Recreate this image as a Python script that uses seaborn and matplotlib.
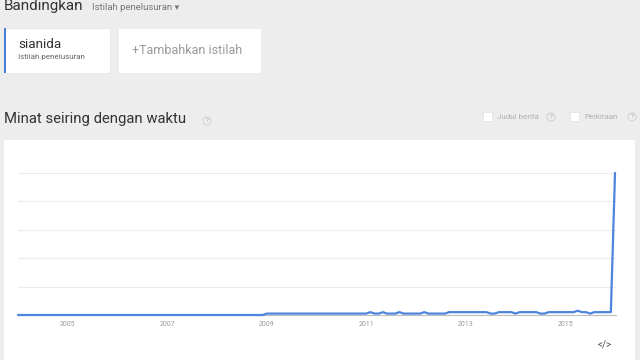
import matplotlib
matplotlib.use("Agg")
import matplotlib.pyplot as plt
from matplotlib.patches import Rectangle
import seaborn as sns
import pandas as pd

# ---- data (monthly search interest, Jan 2004 .. Jan 2016) ----
v2004 = [0, 0, 0, 0, 0, 0, 0, 0, 0, 0, 0, 0]
v2005 = [0, 0, 0, 0, 0, 0, 0, 0, 0, 0, 0, 0]
v2006 = [0, 0, 0, 0, 0, 0, 0, 0, 0, 0, 0, 0]
v2007 = [0, 0, 0, 0, 0, 0, 0, 0, 0, 0, 0, 0]
v2008 = [0, 0, 0, 0, 0, 0, 0, 0, 0, 0, 0, 0]
v2009 = [1, 1, 1, 1, 1, 1, 1, 1, 1, 1, 1, 1]
v2010 = [1, 1, 1, 1, 1, 1, 1, 1, 1, 1, 1, 1]
v2011 = [1, 2, 1, 1, 2, 1, 1, 1, 2, 1, 1, 1]
v2012 = [1, 1, 2, 1, 1, 1, 1, 1, 2, 2, 2, 2]
v2013 = [2, 2, 2, 2, 2, 2, 1, 1, 2, 2, 2, 2]
v2014 = [1, 2, 2, 2, 2, 2, 1, 1, 2, 2, 2, 2]
v2015 = [2, 2, 2, 3, 2, 2, 1, 2, 2, 2, 2, 2]
v2016 = [100]
series_values = v2004 + v2005 + v2006 + v2007 + v2008 + v2009 + v2010 + v2011 + v2012 + v2013 + v2014 + v2015 + v2016
months = pd.date_range("2004-01-01", periods=len(series_values), freq="MS")
year_ticks = [2005, 2007, 2009, 2011, 2013, 2015]
y_grid = [20, 40, 60, 80, 100]

df = pd.DataFrame({"t": months.year + (months.month - 1) / 12.0, "v": series_values})

W, H = 640, 360
sns.set_theme(style="white")
plt.rcParams["font.family"] = ["Roboto", "DejaVu Sans"]

bg = "#ededed"
fig = plt.figure(figsize=(W / 100, H / 100), dpi=100, facecolor=bg)

def fx(x):
    return x / W

def fy(y):
    return 1 - y / H

# white chart panel
fig.add_artist(Rectangle((fx(4), 0), fx(635) - fx(4), 1 - (140 / H), transform=fig.transFigure,
                         facecolor="white", edgecolor="none", zorder=0))

# cards
fig.add_artist(Rectangle((fx(4), fy(73)), fx(110) - fx(4), (73 - 28) / H, transform=fig.transFigure,
                         facecolor="white", edgecolor="#e2e2e2", lw=0.5, zorder=0))
fig.add_artist(Rectangle((fx(4), fy(73)), fx(6) - fx(4), (73 - 28) / H, transform=fig.transFigure,
                         facecolor="#4a7fd8", edgecolor="none", zorder=1))
fig.add_artist(Rectangle((fx(118), fy(73)), fx(261) - fx(118), (73 - 28) / H, transform=fig.transFigure,
                         facecolor="white", edgecolor="#e8e8e8", lw=0.5, zorder=0))

# texts at top
fig.text(fx(4), fy(6), "Bandingkan", fontsize=11, color="#333333", va="center", ha="left")
fig.text(fx(92), fy(7), "Istilah penelusuran \u25be", fontsize=6.8, color="#777777", va="center", ha="left",
         family=["Roboto", "DejaVu Sans"])
fig.text(fx(18), fy(44), "sianida", fontsize=9.7, color="#333333", va="center", ha="left")
fig.text(fx(18), fy(57), "Istilah penelusuran", fontsize=5.8, color="#666666", va="center", ha="left")
fig.text(fx(187), fy(51), "+Tambahkan istilah", fontsize=9, color="#999999", va="center", ha="center")

fig.text(fx(4), fy(119), "Minat seiring dengan waktu", fontsize=10.7, color="#333333", va="center", ha="left")

def qmark(x, y):
    fig.text(fx(x), fy(y), "?", fontsize=4.5, color="#aaaaaa", va="center", ha="center",
             bbox=dict(boxstyle="circle,pad=0.25", fc="none", ec="#cccccc", lw=0.6))

qmark(207, 121)

def checkbox(x, y):
    fig.add_artist(Rectangle((fx(x), fy(y + 9)), 9 / W, 9 / H, transform=fig.transFigure,
                             facecolor="white", edgecolor="#e0e0e0", lw=0.5, zorder=1))

checkbox(483, 112)
fig.text(fx(497), fy(117), "Judul berita", fontsize=5.8, color="#b0b0b0", va="center", ha="left")
qmark(551, 117)
checkbox(570, 112)
fig.text(fx(584), fy(117), "Perkiraan", fontsize=5.8, color="#b0b0b0", va="center", ha="left")
qmark(632, 117)

fig.text(fx(605), fy(344), "</>", fontsize=7, color="#555555", va="center", ha="center")

# chart axes
ax = fig.add_axes([fx(18), fy(315), fx(616) - fx(18), (315 - 173) / H])
ax.set_facecolor("none")
ax.set_zorder(2)
for y in y_grid:
    ax.axhline(y, color="#ececec", lw=0.8, zorder=0)
sns.lineplot(data=df, x="t", y="v", ax=ax, color="#4d84dc", lw=1.6, clip_on=False, zorder=3)
ax.set_xlim(2004.0, 2016.02)
ax.set_ylim(0, 100)
ax.set_xticks(year_ticks)
ax.set_xticklabels([str(y) for y in year_ticks], fontsize=5, color="#999999")
ax.tick_params(axis="x", length=0, pad=4)
ax.set_yticks([])
ax.set_xlabel("")
ax.set_ylabel("")
for s in ["top", "left", "right"]:
    ax.spines[s].set_visible(False)
ax.spines["bottom"].set_color("#bbbbbb")
ax.spines["bottom"].set_linewidth(0.8)

fig.savefig("out.png", dpi=100, facecolor=bg)
